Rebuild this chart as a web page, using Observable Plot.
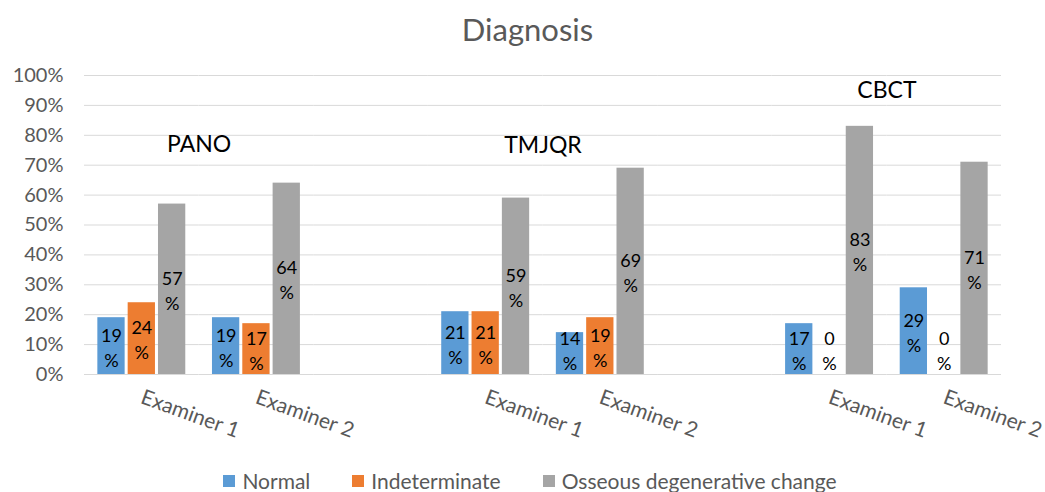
<!DOCTYPE html>
<html><head><meta charset="utf-8">
<script src="https://cdn.jsdelivr.net/npm/d3@7"></script>
<script src="https://cdn.jsdelivr.net/npm/@observablehq/plot@0.6"></script>
<style>
body{margin:0;background:#fff;font-family:Lato,"Open Sans",sans-serif;width:1045px;height:492px;overflow:hidden;}
#title{height:58px;line-height:58px;text-align:center;font-size:31px;color:#595959;padding-left:10px;}
#chart{height:392px;}
#legend{height:42px;display:flex;justify-content:center;align-items:center;padding-top:19px;box-sizing:border-box;font-size:21px;color:#595959;padding-left:15px;}
#legend .item{display:flex;align-items:center;margin:0 21px;}
#legend .sw{width:12px;height:12px;margin-right:7px;}
</style></head><body>
<div id="title">Diagnosis</div>
<div id="chart"></div>
<div id="legend"></div>
<script>
const slots = ["PANO|Examiner 1","PANO|Examiner 2","gap1","TMJQR|Examiner 1","TMJQR|Examiner 2","gap2","CBCT|Examiner 1","CBCT|Examiner 2"];
const dataSlots = ["PANO|Examiner 1","PANO|Examiner 2","TMJQR|Examiner 1","TMJQR|Examiner 2","CBCT|Examiner 1","CBCT|Examiner 2"];
const series = ["Normal","Indeterminate","Osseous degenerative change"];
const colors = ["#5B9BD5","#ED7D31","#A5A5A5"];
const normal = [19,19,21,14,17,29];
const indeterminate = [24,17,21,19,0,0];
const osseous = [57,64,59,69,83,71];
const groupLabels = [
  {label:"PANO", slot:"PANO|Examiner 1", y:77},
  {label:"TMJQR", slot:"TMJQR|Examiner 1", y:76.5},
  {label:"CBCT", slot:"CBCT|Examiner 1", y:95}
];
const yTicks = [0,10,20,30,40,50,60,70,80,90,100];

const seriesValues = [normal, indeterminate, osseous];
const bars = [];
dataSlots.forEach((s,i)=>series.forEach((k,j)=>bars.push({slot:s, series:k, value:seriesValues[j][i]})));
const gridRows = [];
slots.forEach(s=>yTicks.forEach(t=>gridRows.push({slot:s, v:t})));

const chart = Plot.plot({
  width:1045, height:392,
  marginLeft:84, marginRight:44, marginTop:17, marginBottom:76,
  style:{fontFamily:"Lato, 'Open Sans', sans-serif", color:"#595959", background:"#fff"},
  fx:{domain:slots, padding:0, label:null, round:false},
  x:{domain:series, axis:null, paddingInner:0.1, paddingOuter:0.44, round:false},
  y:{domain:[0,100], label:null},
  color:{domain:series, range:colors},
  marks:[
    Plot.ruleY(gridRows, {fx:"slot", y:"v", stroke:"#d9d9d9", strokeWidth:1}),
    Plot.barY(bars, {fx:"slot", x:"series", y:"value", fill:"series"}),
    Plot.text(bars, {fx:"slot", x:"series", y:d=>Math.max(d.value/2, 8.5), text:d=>d.value+"\n%", fontSize:18, fill:"black", lineHeight:1.4}),
    Plot.text(groupLabels, {fx:"slot", y:"y", text:"label", frameAnchor:"right", textAnchor:"middle", fontSize:23, fill:"black"}),
    Plot.axisY({ticks:yTicks, tickFormat:d=>d+"%", tickSize:0, tickPadding:21, fontSize:20, label:null}),
    Plot.axisFx({anchor:"bottom", tickRotate:20, tickSize:0, tickPadding:22, fontSize:21, label:null,
      tickFormat:d=>d.startsWith("gap")?"":d.split("|")[1]})
  ]
});
document.getElementById("chart").appendChild(chart);

const legend = document.getElementById("legend");
series.forEach((s,i)=>{
  const it = document.createElement("div"); it.className="item";
  const sw = document.createElement("div"); sw.className="sw"; sw.style.background=colors[i];
  const t = document.createElement("span"); t.textContent=s;
  it.appendChild(sw); it.appendChild(t); legend.appendChild(it);
});
</script>
</body></html>
